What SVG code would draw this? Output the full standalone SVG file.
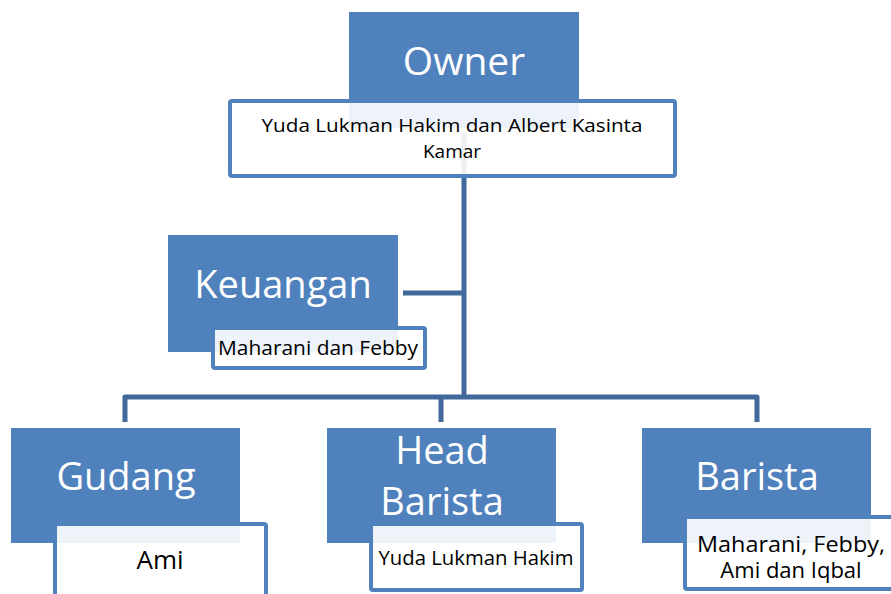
<svg xmlns="http://www.w3.org/2000/svg" width="891" height="594" viewBox="0 0 891 594">
<style>
.blue{fill:#4f81bd;}
.card{fill:#ffffff;fill-opacity:0.9;stroke:#4f81bd;stroke-width:4;}
.h{font-family:"Open Sans","Liberation Sans",sans-serif;font-size:38px;fill:#ffffff;text-anchor:middle;}
.t{font-family:"Open Sans","Liberation Sans",sans-serif;font-size:20px;fill:#000000;text-anchor:middle;}
.conn{fill:none;stroke:#41699b;stroke-width:5;stroke-linejoin:round;}
</style>
<rect width="891" height="594" fill="#ffffff"/>
<g id="connectors">
<path class="conn" d="M464,133 V397"/>
<path class="conn" d="M403,293 H464"/>
<path class="conn" d="M125,422 V397 H757 V422"/>
<path class="conn" d="M441,397 V422"/>
</g>
<g id="owner">
<rect class="blue" x="349" y="12" width="230" height="116"/>
<rect class="card" x="230" y="101" width="445" height="75" rx="2"/>
<text class="h" x="464" y="75" style="font-size:39px">Owner</text>
<text class="t" x="452" y="132" style="font-size:19px" textLength="381" lengthAdjust="spacingAndGlyphs">Yuda Lukman Hakim dan Albert Kasinta</text>
<text class="t" x="452" y="158" style="font-size:19px">Kamar</text>
</g>
<g id="keuangan">
<rect class="blue" x="168" y="235" width="230" height="117"/>
<rect class="card" x="213" y="328" width="212" height="40" rx="2"/>
<text class="h" x="283" y="298">Keuangan</text>
<text class="t" x="318" y="355" textLength="200" lengthAdjust="spacingAndGlyphs">Maharani dan Febby</text>
</g>
<g id="gudang">
<rect class="blue" x="11" y="428" width="229" height="115"/>
<rect class="card" x="55" y="524" width="211" height="80" rx="2"/>
<text class="h" x="126" y="490">Gudang</text>
<text class="t" x="160" y="569" style="font-size:26px">Ami</text>
</g>
<g id="head-barista">
<rect class="blue" x="327" y="428" width="229" height="115"/>
<rect class="card" x="371" y="524" width="211" height="66" rx="2"/>
<text class="h" x="442" y="464">Head</text>
<text class="h" x="442" y="515">Barista</text>
<text class="t" x="476" y="565" textLength="195" lengthAdjust="spacingAndGlyphs">Yuda Lukman Hakim</text>
</g>
<g id="barista">
<rect class="blue" x="642" y="428" width="229" height="115"/>
<rect class="card" x="685" y="517" width="210" height="72" rx="2"/>
<text class="h" x="757" y="490">Barista</text>
<text class="t" x="791" y="552" style="font-size:22px" textLength="188" lengthAdjust="spacingAndGlyphs">Maharani, Febby,</text>
<text class="t" x="791" y="578" style="font-size:22px">Ami dan Iqbal</text>
</g>
</svg>
